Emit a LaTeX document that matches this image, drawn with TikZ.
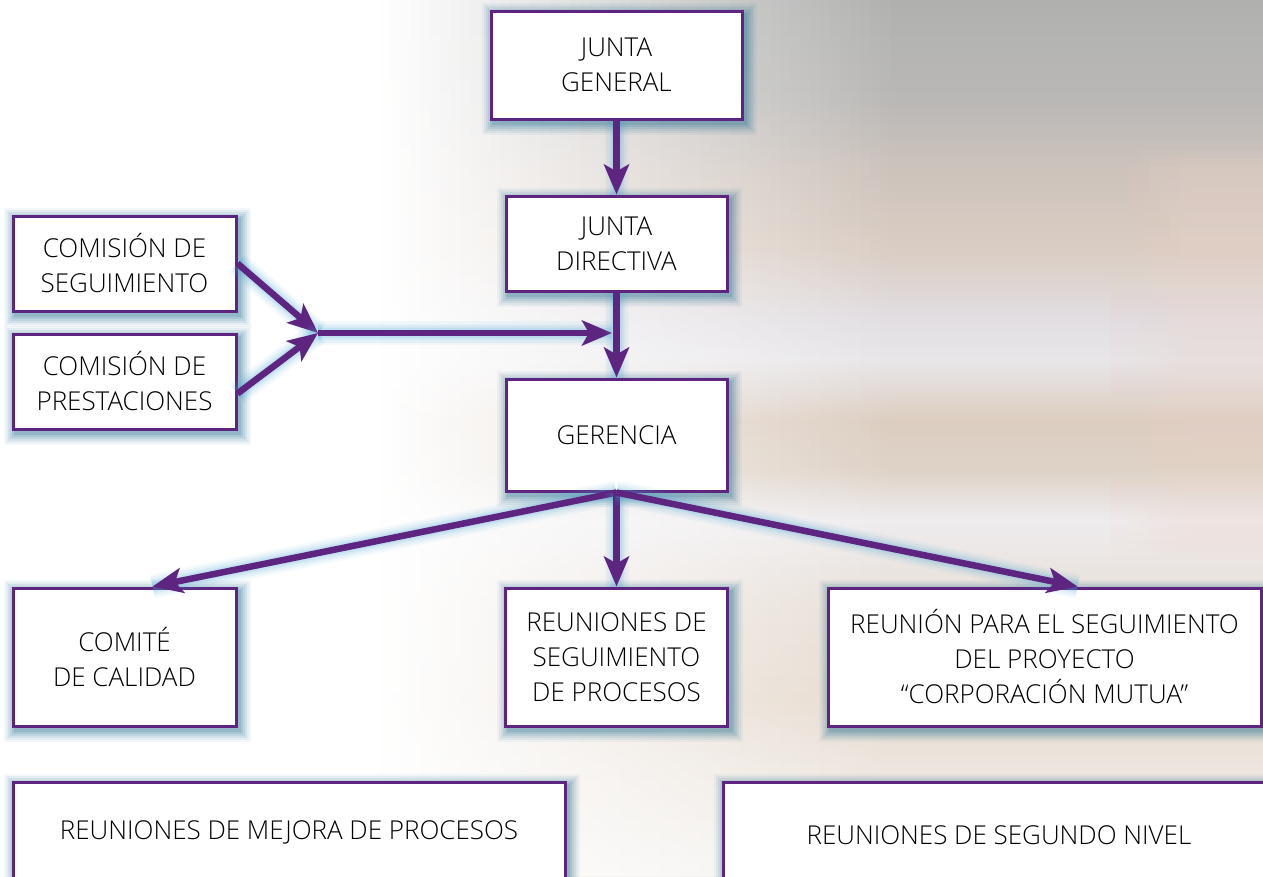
\documentclass[tikz,border=0pt]{standalone}
\usepackage{fontspec}
\setmainfont{Open Sans Light}
\usetikzlibrary{arrows.meta,calc}
\definecolor{purp}{RGB}{93,36,128}
\definecolor{shc}{RGB}{35,110,145}
\definecolor{glc}{RGB}{70,165,215}
\definecolor{bgA}{RGB}{176,177,175}
\definecolor{bgB}{RGB}{186,184,182}
\definecolor{bgC}{RGB}{205,195,188}
\definecolor{bgD}{RGB}{218,205,195}
\definecolor{bgE}{RGB}{226,222,226}
\definecolor{bgF}{RGB}{232,230,233}
\definecolor{bgG}{RGB}{220,205,192}
\definecolor{bgH}{RGB}{222,210,198}
\definecolor{bgI}{RGB}{238,236,238}
\definecolor{bgJ}{RGB}{232,224,216}
\definecolor{bgK}{RGB}{230,218,206}
\definecolor{bgL}{RGB}{236,228,220}
\definecolor{bgM}{RGB}{245,243,240}
\definecolor{pinkc}{RGB}{238,214,204}
\tikzset{
  gl/.style 2 args={preaction={draw=shc, fill=none, line width=#1, opacity=#2, transform canvas={shift={(3pt,-4pt)}}}},
  boxglow/.style={gl={24pt}{0.05}, gl={20pt}{0.07}, gl={16pt}{0.09}, gl={12pt}{0.11}, gl={8pt}{0.13}, gl={4pt}{0.16}},
  box/.style={boxglow, draw=purp, line width=3pt, fill=white, align=center, inner sep=0pt,
    font=\fontsize{26}{35}\selectfont, text=black},
  ag/.style 2 args={preaction={draw=glc, arrows=-, line width=#1, opacity=#2}},
  connglow/.style={ag={24pt}{0.06}, ag={19pt}{0.08}, ag={14pt}{0.10}, ag={10pt}{0.13}},
  conn/.style={connglow, draw=purp, line width=6.5pt, -{Stealth[length=30pt,width=25pt,inset=7pt]}},
}
\begin{document}
\begin{tikzpicture}[x=1pt,y=-1pt]
\useasboundingbox (0,0) rectangle (1263,876);
\clip (0,0) rectangle (1263,876);
% background
\fill[white] (0,0) rectangle (1263,876);
\shade[top color=bgA, bottom color=bgB] (380,0) rectangle (1263,100);
\shade[top color=bgB, bottom color=bgC] (380,100) rectangle (1263,170);
\shade[top color=bgC, bottom color=bgD] (380,170) rectangle (1263,250);
\shade[top color=bgD, bottom color=bgE] (380,250) rectangle (1263,320);
\shade[top color=bgE, bottom color=bgF] (380,320) rectangle (1263,360);
\shade[top color=bgF, bottom color=bgG] (380,360) rectangle (1263,420);
\shade[top color=bgG, bottom color=bgH] (380,420) rectangle (1263,470);
\shade[top color=bgH, bottom color=bgI] (380,470) rectangle (1263,520);
\shade[top color=bgI, bottom color=bgJ] (380,520) rectangle (1263,600);
\shade[top color=bgJ, bottom color=bgK] (380,600) rectangle (1263,700);
\shade[top color=bgK, bottom color=bgL] (380,700) rectangle (1263,760);
\shade[top color=bgL, bottom color=bgM] (380,760) rectangle (1263,876);
\foreach \i [evaluate=\i as \op using {0.12*min(1,(\i+0.5)/8)}] in {0,...,15}
  \foreach \k in {0,8,16}
    \fill[pinkc, opacity=\op] (1110+\i*10,150+\k) rectangle (1120+\i*10,560-\k);
\fill[white] (0,0) rectangle (380,876);
\foreach \i [evaluate=\i as \op using {1-(\i+0.5)/52}] in {0,...,51}
  \fill[white, opacity=\op] (380+\i*10,0) rectangle +(10,876);
% boxes
\node[box, minimum width=251pt, minimum height=108pt] (jg) at (616.5,65) {JUNTA\\GENERAL};
\node[box, minimum width=221pt, minimum height=95pt] (jd) at (616.5,243.5) {JUNTA\\DIRECTIVA};
\node[box, minimum width=221pt, minimum height=112pt] (gr) at (616.5,435) {GERENCIA};
\node[box, minimum width=223pt, minimum height=95pt] (cs) at (124.5,263.5) {COMISIÓN DE\\SEGUIMIENTO};
\node[box, minimum width=223pt, minimum height=95pt] (cp) at (124.5,381.5) {COMISIÓN DE\\PRESTACIONES};
\node[box, minimum width=223pt, minimum height=138pt] (cc) at (124.5,657) {COMITÉ\\DE CALIDAD};
\node[box, minimum width=222pt, minimum height=138pt] (rs) at (616.5,657) {REUNIONES DE\\SEGUIMIENTO\\DE PROCESOS};
\node[box, minimum width=433pt, minimum height=138pt] (rp) at (1044.5,657) {REUNIÓN PARA EL SEGUIMIENTO\\DEL PROYECTO\\“CORPORACIÓN MUTUA”};
\node[box, minimum width=552pt, minimum height=100pt] (bl) at (289,832) {REUNIONES DE MEJORA DE PROCESOS};
\node[box, minimum width=552pt, minimum height=106pt] (br) at (999,835) {REUNIONES DE SEGUNDO NIVEL};
% connectors
\coordinate (J) at (318,333);
\coordinate (M) at (612,333);
\draw[conn] (cs.east) -- (J);
\draw[conn] ([yshift=-12pt]cp.east) -- (J);
\draw[conn] (J) -- (M);
\draw[conn] (jg.south) -- (jd.north);
\draw[conn] (jd.south) -- (gr.north);
\draw[conn] (gr.south) -- ([xshift=28pt]cc.north);
\draw[conn] (gr.south) -- (rs.north);
\draw[conn] (gr.south) -- ([xshift=33pt]rp.north);
\end{tikzpicture}
\end{document}
